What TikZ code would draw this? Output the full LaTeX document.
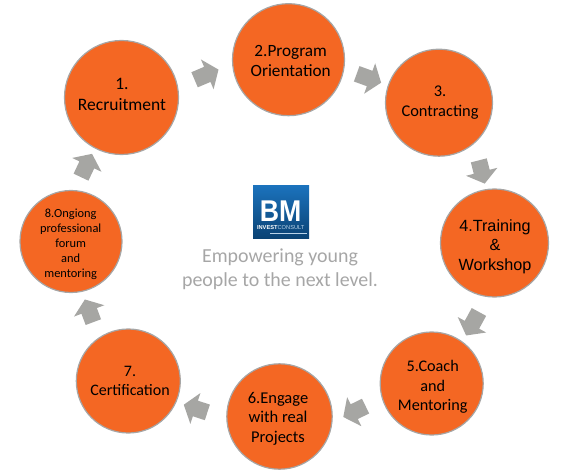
\documentclass[tikz,border=0pt]{standalone}
\usepackage{fontspec}
\usepackage{graphicx}
\setmainfont{Carlito}
\newfontfamily\arialfont{Liberation Sans}
\usetikzlibrary{shapes.arrows}
\definecolor{stepfill}{HTML}{F46723}
\definecolor{stepline}{HTML}{A6A6A6}
\definecolor{arrowgray}{HTML}{A6A6A3}
\definecolor{captiongray}{HTML}{A6A6A6}
\definecolor{logotop}{HTML}{1B72BC}
\definecolor{logomid}{HTML}{1766AB}
\definecolor{logobot}{HTML}{0A4273}
\definecolor{logosoft}{HTML}{B9D3E8}
\newcommand{\fs}[2]{\fontsize{#1bp}{#2bp}\selectfont}
\tikzset{
  stepdisc/.style={circle,draw=stepline,line width=1.2bp,fill=stepfill,inner sep=0pt,minimum size=#1},
  steptext/.style={anchor=base,align=center,inner sep=0pt,text=black,yshift=-1.3bp},
  flowarrow/.style={single arrow,fill=arrowgray,draw=none,inner xsep=0pt,inner ysep=8bp,minimum height=#1,single arrow head extend=8bp,single arrow tip angle=106},
  captiontext/.style={anchor=base,align=center,inner sep=0pt,text=captiongray,font=\fs{19.9}{23.5}},
  logotext/.style={anchor=base,inner sep=0pt,text=white}
}
\begin{document}
\begin{tikzpicture}[x=1bp,y=-1bp]
\useasboundingbox (0,0) rectangle (565,473);
% discs
\node[stepdisc=114bp] (c1) at (121.5,97.5) {};
\node[stepdisc=112bp] (c2) at (288.5,59.7) {};
\node[stepdisc=107bp] (c3) at (439,102.7) {};
\node[stepdisc=108bp] (c4) at (494.5,243) {};
\node[stepdisc=103bp] (c5) at (431.7,383.5) {};
\node[stepdisc=105.4bp] (c6) at (279.5,416.5) {};
\node[stepdisc=104bp] (c7) at (128.3,381) {};
\node[stepdisc=102bp] (c8) at (71,241.5) {};
% labels (anchored on the last baseline)
\node[steptext,font=\fs{17.5}{21}] (t1) at (122,109) {1.\\Recruitment};
\node[steptext,font=\fs{17.2}{20.7}] (t2) at (290.7,75.7) {2.Program\\Orientation};
\node[steptext,font=\fs{16.4}{20}] (t3) at (440,115) {3.\\Contracting};
\node[steptext,font=\arialfont\fs{16.2}{19.5}] (t4) at (495,269) {4.Training\\\&\\Workshop};
\node[steptext,font=\fs{16.2}{19.2}] (t5) at (432.7,409) {5.Coach\\and\\Mentoring};
\node[steptext,font=\fs{16.5}{19.5}] (t6) at (278,440.7) {6.Engage\\with real\\Projects};
\node[steptext,font=\fs{16}{19.3}] (t7) at (130,394.3) {7.\\Certification};
\node[steptext,font=\fs{12.4}{15.2}] (t8) at (70.7,276.7) {8.Ongiong\\professional\\forum\\and\\mentoring};
% block arrows
\node[flowarrow=26bp,rotate=23] (a1) at (203.7,75.9) {};
\node[flowarrow=26bp,rotate=-20] (a2) at (366,77.2) {};
\node[flowarrow=24bp,rotate=-75.7] (a3) at (481,169) {};
\node[flowarrow=26.8bp,rotate=-118.6] (a4) at (474,321) {};
\node[flowarrow=24.8bp,rotate=-154] (a5) at (357.2,410.2) {};
\node[flowarrow=24.8bp,rotate=162] (a6) at (198.5,409.5) {};
\node[flowarrow=24.2bp,rotate=110.5] (a7) at (90.2,313.7) {};
\node[flowarrow=25.8bp,rotate=64.7] (a8) at (85.2,168.3) {};
% logo
\shade[top color=logotop,middle color=logomid,bottom color=logobot] (253,186) rectangle (309,239);
\node[logotext,font={\arialfont\bfseries\fs{30}{30}}] (bm) at (280.7,221.3) {\scalebox{0.89}[1]{BM}};
\node[logotext,font={\arialfont\fs{5.7}{6}}] (ic) at (280.7,230) {\textbf{INVEST}\textcolor{logosoft}{CONSULT}};
\draw[logosoft,line width=0.5bp] (270,233) -- (307,233);
% caption
\node[captiontext] (cap) at (280,286) {Empowering young\\people to the next level.};
\end{tikzpicture}
\end{document}
